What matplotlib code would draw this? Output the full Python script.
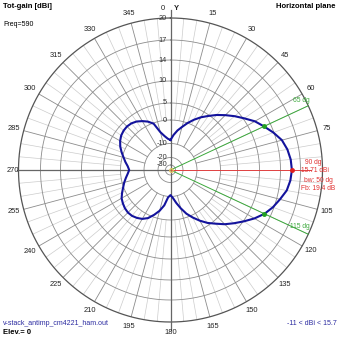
import numpy as np
import matplotlib
matplotlib.use("Agg")
import matplotlib.pyplot as plt

plt.rcParams['font.family'] = ['Liberation Sans', 'DejaVu Sans']

# pattern: azimuth (deg) and total gain (dBi)
azimuth = [0, 5, 10, 15, 20, 25, 30, 35, 40, 45, 50, 55, 60, 65, 70, 75, 80, 85, 90,
           95, 100, 105, 110, 115, 120, 125, 130, 135, 140, 145, 150, 155, 160, 165,
           170, 175, 180, 185, 190, 195, 200, 205, 210, 215, 220, 225, 230, 235, 240,
           245, 250, 255, 260, 265, 270, 275, 280, 285, 290, 295, 300, 305, 310, 315,
           320, 325, 330, 335, 340, 345, 350, 355, 360]
gain = [-8.5, -6.3, -4.2, -2.3, 0.0, 1.6, 3.2, 4.7, 6.1, 7.4, 8.8, 10.2, 11.6, 12.7,
        13.9, 14.8, 15.3, 15.6, 15.71, 15.55, 15.2, 14.5, 13.8, 12.8, 11.5, 10.1, 8.6,
        7.2, 5.7, 4.3, 2.5, 0.7, -1.5, -4.4, -7.0, -9.3, -11.0, -9.6, -6.0, -3.3, -1.0,
        0.9, 1.9, 2.5, 2.9, 3.0, 2.8, 2.4, 1.9, 1.0, 0.1, -0.9, -2.0, -3.0, -3.7, -3.0,
        -1.8, -0.6, 0.6, 1.6, 2.4, 3.0, 3.3, 3.4, 3.2, 2.7, 1.9, 1.0, -0.3, -4.6, -6.6,
        -7.9, -8.5]

ring_db = [-30, -20, -10, 0, 5, 10, 14, 17, 20]
ring_labels = ['-30', '-20', '-10', '0', '5', '10', '14', '17', '20']
ring_px = [5, 12.5, 26.5, 50, 67, 89, 110, 130, 152]   # log-like radial scale

max_az, max_gain = 90, 15.71
bw_az = [65, 115]
angle_ticks = list(range(0, 360, 15))

def rad(db):
    return np.interp(db, ring_db, ring_px)

R = ring_px[-1]
fig = plt.figure(figsize=(3.39, 3.39), dpi=100)
cx, cy = 170.5, 170
ax = fig.add_axes([(cx - R) / 339, (339 - cy - R) / 339, 2 * R / 339, 2 * R / 339],
                  projection='polar')
ax.set_theta_zero_location('N')
ax.set_theta_direction(-1)
ax.set_ylim(0, R)
ax.axis('off')

full = np.linspace(0, 2 * np.pi, 361)

# light radials every 5 deg, dark every 15 deg
for a in range(0, 360, 5):
    t = np.deg2rad(a)
    if a % 90 == 0:
        continue
    if a % 15 == 0:
        ax.plot([t, t], [rad(-10), R], color='#8c8c8c', lw=0.6, zorder=1)
    else:
        ax.plot([t, t], [rad(0), R], color='#cccccc', lw=0.5, zorder=1)

# rings
for r in ring_px[:-1]:
    ax.plot(full, np.full_like(full, r), color='#8c8c8c', lw=0.6, zorder=1)
ax.plot(full, np.full_like(full, R), color='#555555', lw=0.9, zorder=2, clip_on=False)

# main axis lines
for a in [0, 180]:
    t = np.deg2rad(a)
    ax.plot([t, t], [0, R + 8], color='#666666', lw=0.9, zorder=2, clip_on=False)
ax.plot([np.deg2rad(270)] * 2, [0, R + 2], color='#666666', lw=0.9, zorder=2, clip_on=False)

# ring labels just left of the 0 deg axis
for lab, r in zip(ring_labels, ring_px):
    ang = np.arctan2(-3.5, r)
    ax.text(ang, np.hypot(r, 3.5), lab, fontsize=5.3, color='#333333',
            ha='right', va='center', zorder=3)

# angle labels
for a in angle_ticks:
    if a == 90:
        continue
    t = np.deg2rad(a)
    rr = 162
    if a == 0:
        t = np.deg2rad(-2.6)
    if a == 270:
        rr = 158
    ax.text(t, rr, str(a), fontsize=5.4, color='#222222', ha='center', va='center',
            clip_on=False)
ax.text(np.deg2rad(2.0), 162, 'Y', fontsize=5.5, fontweight='bold', color='#222222',
        ha='center', va='center', clip_on=False)

# beamwidth and max lines
for a in bw_az:
    t = np.deg2rad(a)
    ax.plot([t, t], [0, R], color='#3aa83a', lw=0.7, zorder=4, clip_on=False)
ax.plot([np.deg2rad(max_az)] * 2, [0, 140], color='#e04040', lw=0.7, zorder=4,
        clip_on=False)

# pattern
th = np.deg2rad(azimuth)
ax.plot(th, rad(np.array(gain)), color='#13139c', lw=1.5, zorder=5)

g_bw = np.interp(bw_az, azimuth, gain)
ax.plot(np.deg2rad(bw_az), rad(g_bw), 'o', color='#22a022', ms=2.5, zorder=6)
ax.plot(np.deg2rad(max_az), rad(max_gain), 'o', color='#e02020', ms=2.5, zorder=6)
ax.plot(0, 0, 'o', color='#e0c060', ms=2.5, mfc='none', zorder=6)

# annotations
ax.text(np.deg2rad(61.8), 148, '65 dg', fontsize=4.8, color='#3aa83a',
        ha='center', va='center', clip_on=False)
ax.text(np.deg2rad(113.6), 141, '115 dg', fontsize=4.8, color='#3aa83a',
        ha='center', va='center', clip_on=False)
red = '#e03030'
fig.text(313 / 339, 1 - 162 / 339, '90 dg', fontsize=4.8, color=red, ha='center', va='center')
fig.text(315 / 339, 1 - 170.7 / 339, '15.71 dBi', fontsize=4.8, color=red, ha='center', va='center')
fig.text(318 / 339, 1 - 180 / 339, 'bw: 50 dg', fontsize=4.8, color=red, ha='center', va='center')
fig.text(318 / 339, 1 - 188 / 339, 'Fb: 19.4 dB', fontsize=4.8, color=red, ha='center', va='center')

fig.text(3 / 339, 1 - 7 / 339, 'Tot-gain [dBi]', fontsize=5.5, fontweight='bold',
         ha='left', va='center')
fig.text(3 / 339, 1 - 25 / 339, 'Freq=590', fontsize=5, ha='left', va='center')
fig.text(336 / 339, 1 - 7 / 339, 'Horizontal plane', fontsize=5.5, fontweight='bold',
         ha='right', va='center')
fig.text(3 / 339, 1 - 323.5 / 339, 'v-stack_antimp_cm4221_ham.out', fontsize=5,
         color='#2a2aa0', ha='left', va='center')
fig.text(3 / 339, 1 - 332.5 / 339, 'Elev.= 0', fontsize=5.5, fontweight='bold',
         ha='left', va='center')
fig.text(337 / 339, 1 - 323.5 / 339, '-11 < dBi < 15.7', fontsize=5,
         color='#2a2aa0', ha='right', va='center')

fig.savefig('out.png', dpi=100)
